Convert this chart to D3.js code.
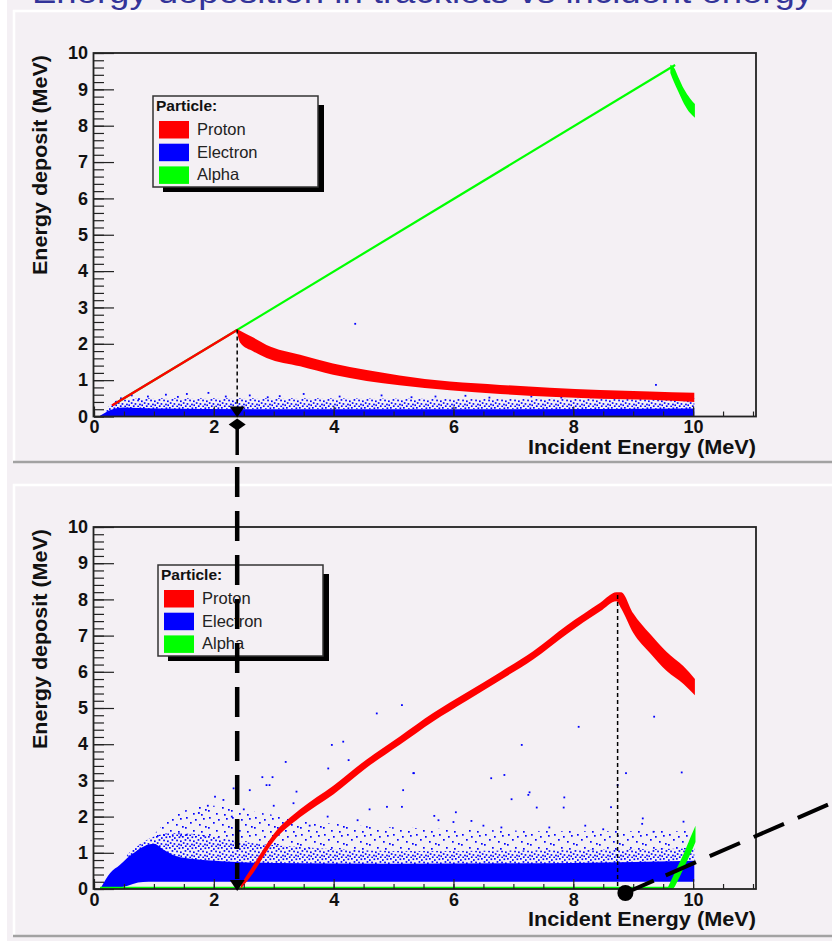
<!DOCTYPE html>
<html>
<head>
<meta charset="utf-8">
<script src="https://cdn.jsdelivr.net/npm/d3@7"></script>
<style>
  html, body { margin: 0; padding: 0; background: #fff; overflow: hidden; }
  svg { display: block; }
  .tick line { stroke: #222; stroke-width: 1.2; }
  .tick text { font-family: 'Liberation Sans', Arial, sans-serif; font-weight: bold; font-size: 18px; fill: #111; }
</style>
</head>
<body>
<svg id="chart" width="832" height="941"></svg>
<script>
/* global d3 */

// tick labels
const energyTicks = [0, 2, 4, 6, 8, 10];
const depositTicks = [0, 1, 2, 3, 4, 5, 6, 7, 8, 9, 10];
const legendLabels = ['Proton', 'Electron', 'Alpha'];

// ---- top pad: deposit in first layer ----
// [incident, deposit]
const topProtonLine = [[0.3, 0.3], [2.39, 2.38]];
// [incident, deposit low, deposit high]
const topProtonBand = [
  [2.39, 2.3, 2.4], [2.44, 2.03, 2.36], [2.66, 1.79, 2.17], [2.88, 1.61, 1.97],
  [3.44, 1.38, 1.7], [3.99, 1.15, 1.46], [4.55, 0.98, 1.28], [5.1, 0.86, 1.13],
  [5.94, 0.72, 0.96], [6.78, 0.62, 0.87], [7.61, 0.54, 0.79], [8.45, 0.49, 0.73],
  [9.28, 0.46, 0.69], [10.02, 0.4, 0.65]
];
const topAlphaLine = [[0.35, 0.35], [9.7, 9.67]];
const topAlphaTail = [
  [9.62, 9.45, 9.68], [9.68, 9.2, 9.6], [9.75, 8.95, 9.35],
  [9.85, 8.6, 9.0], [9.95, 8.35, 8.75], [10.03, 8.22, 8.6]
];
const topElectronCore = [
  [0.1, 0, 0.02], [0.2, 0, 0.12], [0.35, 0, 0.22], [0.5, 0, 0.25],
  [1.0, 0, 0.22], [3.0, 0, 0.2], [6.0, 0, 0.2], [10.02, 0, 0.22]
];
const topElectronHalo = [
  [0.2, 0.1, 0.2], [0.4, 0.2, 0.45], [1.0, 0.2, 0.5], [3.0, 0.2, 0.5],
  [6.0, 0.2, 0.48], [10.02, 0.2, 0.5]
];
const topElectronDots = [
  [0.45, 0.5], [0.63, 0.58], [0.9, 0.55], [1.2, 0.6], [1.55, 0.62], [1.91, 0.65],
  [2.2, 0.55], [2.6, 0.58], [3.1, 0.56], [3.5, 0.62], [4.36, 2.55], [4.1, 0.55],
  [4.8, 0.58], [5.3, 0.53], [5.7, 0.55], [6.2, 0.57], [6.6, 0.52], [7.3, 0.55],
  [7.8, 0.52], [8.3, 0.56], [8.9, 0.53], [9.38, 0.87], [9.6, 0.55], [1.4, 0.54],
  [2.9, 0.53], [0.75, 0.48]
];

// ---- bottom pad: deposit in second layer ----
const bottomProtonBand = [
  [2.45, 0.0, 0.12], [2.66, 0.45, 0.66], [2.99, 1.3, 1.5], [3.44, 1.98, 2.2],
  [4.0, 2.62, 2.86], [4.55, 3.35, 3.58], [5.11, 3.99, 4.22], [5.66, 4.63, 4.86],
  [6.22, 5.2, 5.43], [6.78, 5.77, 5.99], [7.33, 6.34, 6.57], [7.89, 7.04, 7.28],
  [8.45, 7.67, 7.91], [8.72, 7.95, 8.2], [8.8, 7.75, 8.2], [9.0, 7.08, 7.62],
  [9.28, 6.52, 7.05], [9.56, 6.02, 6.55], [9.84, 5.66, 6.15], [10.03, 5.35, 5.8]
];
const bottomAlphaLine = [[0.1, 0.03], [9.62, 0.03]];
const bottomAlphaRise = [
  [9.58, 0.0, 0.05], [9.65, 0.0, 0.3], [9.75, 0.25, 0.65],
  [9.85, 0.6, 1.0], [9.95, 0.95, 1.4], [10.04, 1.3, 1.75]
];
const bottomElectronCore = [
  [0.12, 0.0, 0.05], [0.27, 0.02, 0.44], [0.43, 0.04, 0.66], [0.55, 0.08, 0.85],
  [0.65, 0.14, 0.98], [0.82, 0.19, 1.17], [1.0, 0.2, 1.25], [1.15, 0.2, 1.1],
  [1.35, 0.2, 0.92], [1.7, 0.2, 0.82], [2.2, 0.2, 0.76], [3.0, 0.2, 0.72],
  [5.0, 0.2, 0.7], [8.0, 0.2, 0.72], [10.02, 0.2, 0.78]
];
const bottomElectronHalo = [
  [0.55, 0.8, 0.95], [0.82, 1.1, 1.3], [1.0, 1.1, 1.45], [1.3, 0.85, 1.55],
  [1.8, 0.78, 1.5], [2.5, 0.72, 1.3], [3.5, 0.7, 1.15], [5.0, 0.68, 1.05],
  [8.0, 0.7, 1.08], [10.02, 0.76, 1.12]
];
const bottomElectronSparse = [
  [1.0, 1.4, 1.5], [1.4, 1.45, 2.1], [2.0, 1.4, 2.3], [2.8, 1.25, 2.1],
  [4.0, 1.1, 1.8], [6.0, 1.05, 1.65], [8.0, 1.05, 1.6], [10.02, 1.1, 1.6]
];
const bottomElectronDots = [
  [5.14, 5.08], [4.72, 4.85], [3.97, 3.98], [4.16, 4.07], [3.2, 3.51], [3.91, 3.33],
  [4.25, 3.56], [2.81, 3.09], [2.98, 3.09], [2.88, 2.87], [2.93, 2.87], [2.33, 2.78],
  [2.6, 2.73], [3.38, 2.69], [2.02, 2.55], [2.16, 2.46], [3.33, 2.37], [5.33, 3.2],
  [5.16, 2.73], [4.89, 2.27], [8.09, 4.48], [9.35, 4.76], [7.14, 3.98], [9.81, 3.22],
  [8.88, 3.2], [5.34, 3.2], [6.63, 3.06], [6.85, 3.15], [7.27, 2.67], [7.25, 2.6],
  [6.97, 2.48], [7.85, 2.53], [7.39, 2.25], [7.84, 2.25], [8.63, 2.26], [8.74, 2.87],
  [6.04, 2.12], [5.68, 2.02], [5.14, 2.27], [9.84, 1.86], [9.16, 1.95], [9.15, 1.8],
  [5.75, 1.9], [6.0, 1.85], [6.3, 1.88], [6.5, 1.75], [6.8, 1.7], [7.6, 1.7],
  [8.2, 1.75], [8.5, 1.65], [9.34, 1.58], [4.4, 1.9], [3.9, 2.0], [4.6, 2.2],
  [3.0, 2.3], [2.5, 2.2], [1.9, 2.3], [1.75, 2.1], [2.3, 2.0], [3.6, 1.75]
];

// annotation anchors [incident, deposit]
const topPeak = [2.39, 2.39];
const bottomPeak = [8.74, 8.12];
const pointer = [[8.87, -0.11], [12.32, 2.38]];

// styles
const CANVAS_BG = '#f4f0f4';
const COLORS = { Proton: '#ff0000', Electron: '#0000ff', Alpha: '#00ff00' };
const FONT = "'Liberation Sans', Arial, sans-serif";
// speckle textures used for the thinly populated parts of the electron cloud
const SPECK_DENSE = [[0, 0], [5, 1.2], [9.5, 0.4], [2.6, 3.1], [7.2, 3.6], [11, 4.4],
  [0.8, 6.2], [4.6, 7.1], [9.1, 7.6], [2.9, 9.3], [7.3, 9.6], [11.4, 8.4]];
const SPECK_SPARSE = [[2, 1], [11, 3], [19, 2], [6, 6], [15, 8], [21, 10], [1, 11], [9, 14], [17, 15]];

const $svg = d3.select('#chart');
const x = d3.scaleLinear().domain([0, 11.05]).range([94, 756]);

// page + canvas bevels
$svg.append('rect').attr('width', 832).attr('height', 941).attr('fill', '#fff');
$svg.append('rect').attr('x', 7).attr('width', 825).attr('height', 941).attr('fill', CANVAS_BG);

const defs = $svg.append('defs');
function speckle(id, w, h, dots) {
  const $p = defs.append('pattern').attr('id', id)
    .attr('patternUnits', 'userSpaceOnUse').attr('width', w).attr('height', h);
  dots.forEach(([px, py]) => {
    $p.append('rect').attr('x', px).attr('y', py)
      .attr('width', 1.7).attr('height', 1.7).attr('fill', COLORS.Electron);
  });
}
speckle('speckDense', 13, 11, SPECK_DENSE);
speckle('speckSparse', 23, 17, SPECK_SPARSE);

[[10, 462], [484, 936]].forEach(([t, b]) => {
  $svg.append('line').attr('x1', 13).attr('x2', 832).attr('y1', t + 1).attr('y2', t + 1)
    .attr('stroke', '#fff').attr('stroke-width', 2.5);
  $svg.append('line').attr('x1', 14).attr('x2', 14).attr('y1', t).attr('y2', b)
    .attr('stroke', '#fff').attr('stroke-width', 2.5);
  $svg.append('line').attr('x1', 13).attr('x2', 832).attr('y1', b).attr('y2', b)
    .attr('stroke', '#a2a2a2').attr('stroke-width', 2.5);
});

// slide title (cut off at the top)
$svg.append('text')
  .attr('x', 32).attr('y', 3)
  .attr('textLength', 781).attr('lengthAdjust', 'spacingAndGlyphs')
  .style('font-family', FONT).style('font-size', '31px').attr('fill', '#333399')
  .text('Energy deposition in tracklets vs incident energy');

function drawPanel(p) {
  const y = d3.scaleLinear().domain([0, 10]).range([p.bottom, p.top]);
  const band = d3.area().curve(d3.curveMonotoneX)
    .x(d => x(d[0])).y0(d => y(d[1])).y1(d => y(d[2]));
  const line = d3.line().x(d => x(d[0])).y(d => y(d[1]));
  const $g = $svg.append('g').attr('class', `panel panel--${p.name}`);

  // electrons
  if (p.electronSparse) {
    $g.append('path').datum(p.electronSparse).attr('d', band).attr('fill', 'url(#speckSparse)');
  }
  $g.append('path').datum(p.electronHalo).attr('d', band).attr('fill', 'url(#speckDense)');
  $g.append('path').datum(p.electronCore).attr('d', band).attr('fill', COLORS.Electron);
  $g.append('g').selectAll('rect').data(p.electronDots).join('rect')
    .attr('x', d => x(d[0]) - 0.9).attr('y', d => y(d[1]) - 0.9)
    .attr('width', 1.8).attr('height', 1.8).attr('fill', COLORS.Electron);

  // alphas
  $g.append('path').datum(p.alphaLine).attr('d', line)
    .attr('fill', 'none').attr('stroke', COLORS.Alpha).attr('stroke-width', 2.2);
  $g.append('path').datum(p.alphaBand).attr('d', band).attr('fill', COLORS.Alpha);

  // protons
  if (p.protonLine) {
    $g.append('path').datum(p.protonLine).attr('d', line)
      .attr('fill', 'none').attr('stroke', COLORS.Proton).attr('stroke-width', 2.4);
  }
  $g.append('path').datum(p.protonBand).attr('d', band).attr('fill', COLORS.Proton);

  // legend
  const [lx, ly] = p.legendAt;
  const $leg = $g.append('g').attr('transform', `translate(${lx},${ly})`);
  $leg.append('rect').attr('x', 10).attr('y', 9).attr('width', 161).attr('height', 87).attr('fill', '#000');
  $leg.append('rect').attr('width', 165).attr('height', 91)
    .attr('fill', CANVAS_BG).attr('stroke', '#333').attr('stroke-width', 1.5);
  $leg.append('text').attr('x', 3).attr('y', 14.5)
    .style('font-family', FONT).style('font-weight', 'bold').style('font-size', '15.5px').attr('fill', '#111')
    .text('Particle:');
  const $row = $leg.selectAll('.row').data(legendLabels).join('g')
    .attr('class', 'row').attr('transform', (d, i) => `translate(6,${25 + i * 22.7})`);
  $row.append('rect').attr('width', 30).attr('height', 17.5).attr('fill', d => COLORS[d]);
  $row.append('text').attr('x', 38).attr('y', 14)
    .style('font-family', FONT).style('font-size', '16.5px').attr('fill', '#222')
    .text(d => d);

  // axes
  const tidy = g => g.select('.domain').remove();
  $g.append('g').attr('transform', `translate(0,${p.bottom})`)
    .call(d3.axisBottom(x).tickValues(d3.range(0, 11.01, 0.5)).tickSize(-5).tickFormat(''))
    .call(tidy);
  $g.append('g').attr('transform', `translate(0,${p.bottom})`)
    .call(d3.axisBottom(x).tickValues(energyTicks).tickSize(-10).tickPadding(4).tickFormat(d3.format('d')))
    .call(tidy);
  $g.append('g').attr('transform', `translate(${x(0)},0)`)
    .call(d3.axisLeft(y).tickValues(d3.range(0, 10.01, 0.2)).tickSize(-10).tickFormat(''))
    .call(tidy);
  $g.append('g').attr('transform', `translate(${x(0)},0)`)
    .call(d3.axisLeft(y).tickValues(depositTicks).tickSize(-20).tickPadding(6).tickFormat(d3.format('d')))
    .call(tidy);

  $g.append('rect')
    .attr('x', x(0) - 0.5).attr('y', p.top)
    .attr('width', x.range()[1] - x(0) + 0.5).attr('height', p.bottom - p.top)
    .attr('fill', 'none').attr('stroke', '#222').attr('stroke-width', 1.8);

  $g.append('text')
    .attr('transform', `translate(47,${p.top + 2}) rotate(-90)`)
    .attr('text-anchor', 'end').attr('textLength', 220).attr('lengthAdjust', 'spacingAndGlyphs')
    .style('font-family', FONT).style('font-weight', 'bold').style('font-size', '21px').attr('fill', '#111')
    .text('Energy deposit (MeV)');
  $g.append('text')
    .attr('x', x.range()[1]).attr('y', p.bottom + 37)
    .attr('text-anchor', 'end').attr('textLength', 228).attr('lengthAdjust', 'spacingAndGlyphs')
    .style('font-family', FONT).style('font-weight', 'bold').style('font-size', '20px').attr('fill', '#111')
    .text('Incident Energy (MeV)');

  return y;
}

const yTop = drawPanel({
  name: 'top', top: 53, bottom: 416.5, legendAt: [153, 96],
  electronCore: topElectronCore, electronHalo: topElectronHalo, electronSparse: null,
  electronDots: topElectronDots, alphaLine: topAlphaLine, alphaBand: topAlphaTail,
  protonLine: topProtonLine, protonBand: topProtonBand
});
const yBot = drawPanel({
  name: 'bottom', top: 527, bottom: 889, legendAt: [158, 565],
  electronCore: bottomElectronCore, electronHalo: bottomElectronHalo, electronSparse: bottomElectronSparse,
  electronDots: bottomElectronDots, alphaLine: bottomAlphaLine, alphaBand: bottomAlphaRise,
  protonLine: null, protonBand: bottomProtonBand
});

// annotations
const $ann = $svg.append('g').attr('class', 'annotations');
const ax = x(topPeak[0]);
$ann.append('line').attr('x1', ax).attr('x2', ax)
  .attr('y1', yTop(topPeak[1])).attr('y2', yTop(0) - 9)
  .attr('stroke', '#000').attr('stroke-width', 1.5).attr('stroke-dasharray', '4,3');
const tri = (cx, tip) => `M${cx - 7.5},${tip - 11}L${cx + 7.5},${tip - 11}L${cx},${tip}Z`;
$ann.append('path').attr('d', tri(ax, yTop(0) + 1)).attr('fill', '#000');
const dy = yTop(0) + 8;
$ann.append('path')
  .attr('d', `M${ax},${dy - 6}L${ax + 8.5},${dy}L${ax},${dy + 6}L${ax - 8.5},${dy}Z`)
  .attr('fill', '#000');
$ann.append('line').attr('x1', ax).attr('x2', ax).attr('y1', dy).attr('y2', 455)
  .attr('stroke', '#000').attr('stroke-width', 3.5);
$ann.append('line').attr('x1', ax).attr('x2', ax).attr('y1', 467).attr('y2', yBot(0) - 10)
  .attr('stroke', '#000').attr('stroke-width', 4.5).attr('stroke-dasharray', '30,14');
$ann.append('path').attr('d', tri(ax, yBot(0) + 2)).attr('fill', '#000');

const bx = x(bottomPeak[0]);
$ann.append('line').attr('x1', bx).attr('x2', bx)
  .attr('y1', yBot(bottomPeak[1])).attr('y2', yBot(0))
  .attr('stroke', '#000').attr('stroke-width', 1.5).attr('stroke-dasharray', '4,3');
$ann.append('path')
  .datum(pointer)
  .attr('d', d3.line().x(d => x(d[0])).y(d => yBot(d[1])))
  .attr('fill', 'none').attr('stroke', '#000').attr('stroke-width', 4)
  .attr('stroke-dasharray', '31,13,33,15,33,15,33,15,33,15,33,15');
$ann.append('circle')
  .attr('cx', x(pointer[0][0])).attr('cy', yBot(pointer[0][1])).attr('r', 8)
  .attr('fill', '#000');
</script>
</body>
</html>
